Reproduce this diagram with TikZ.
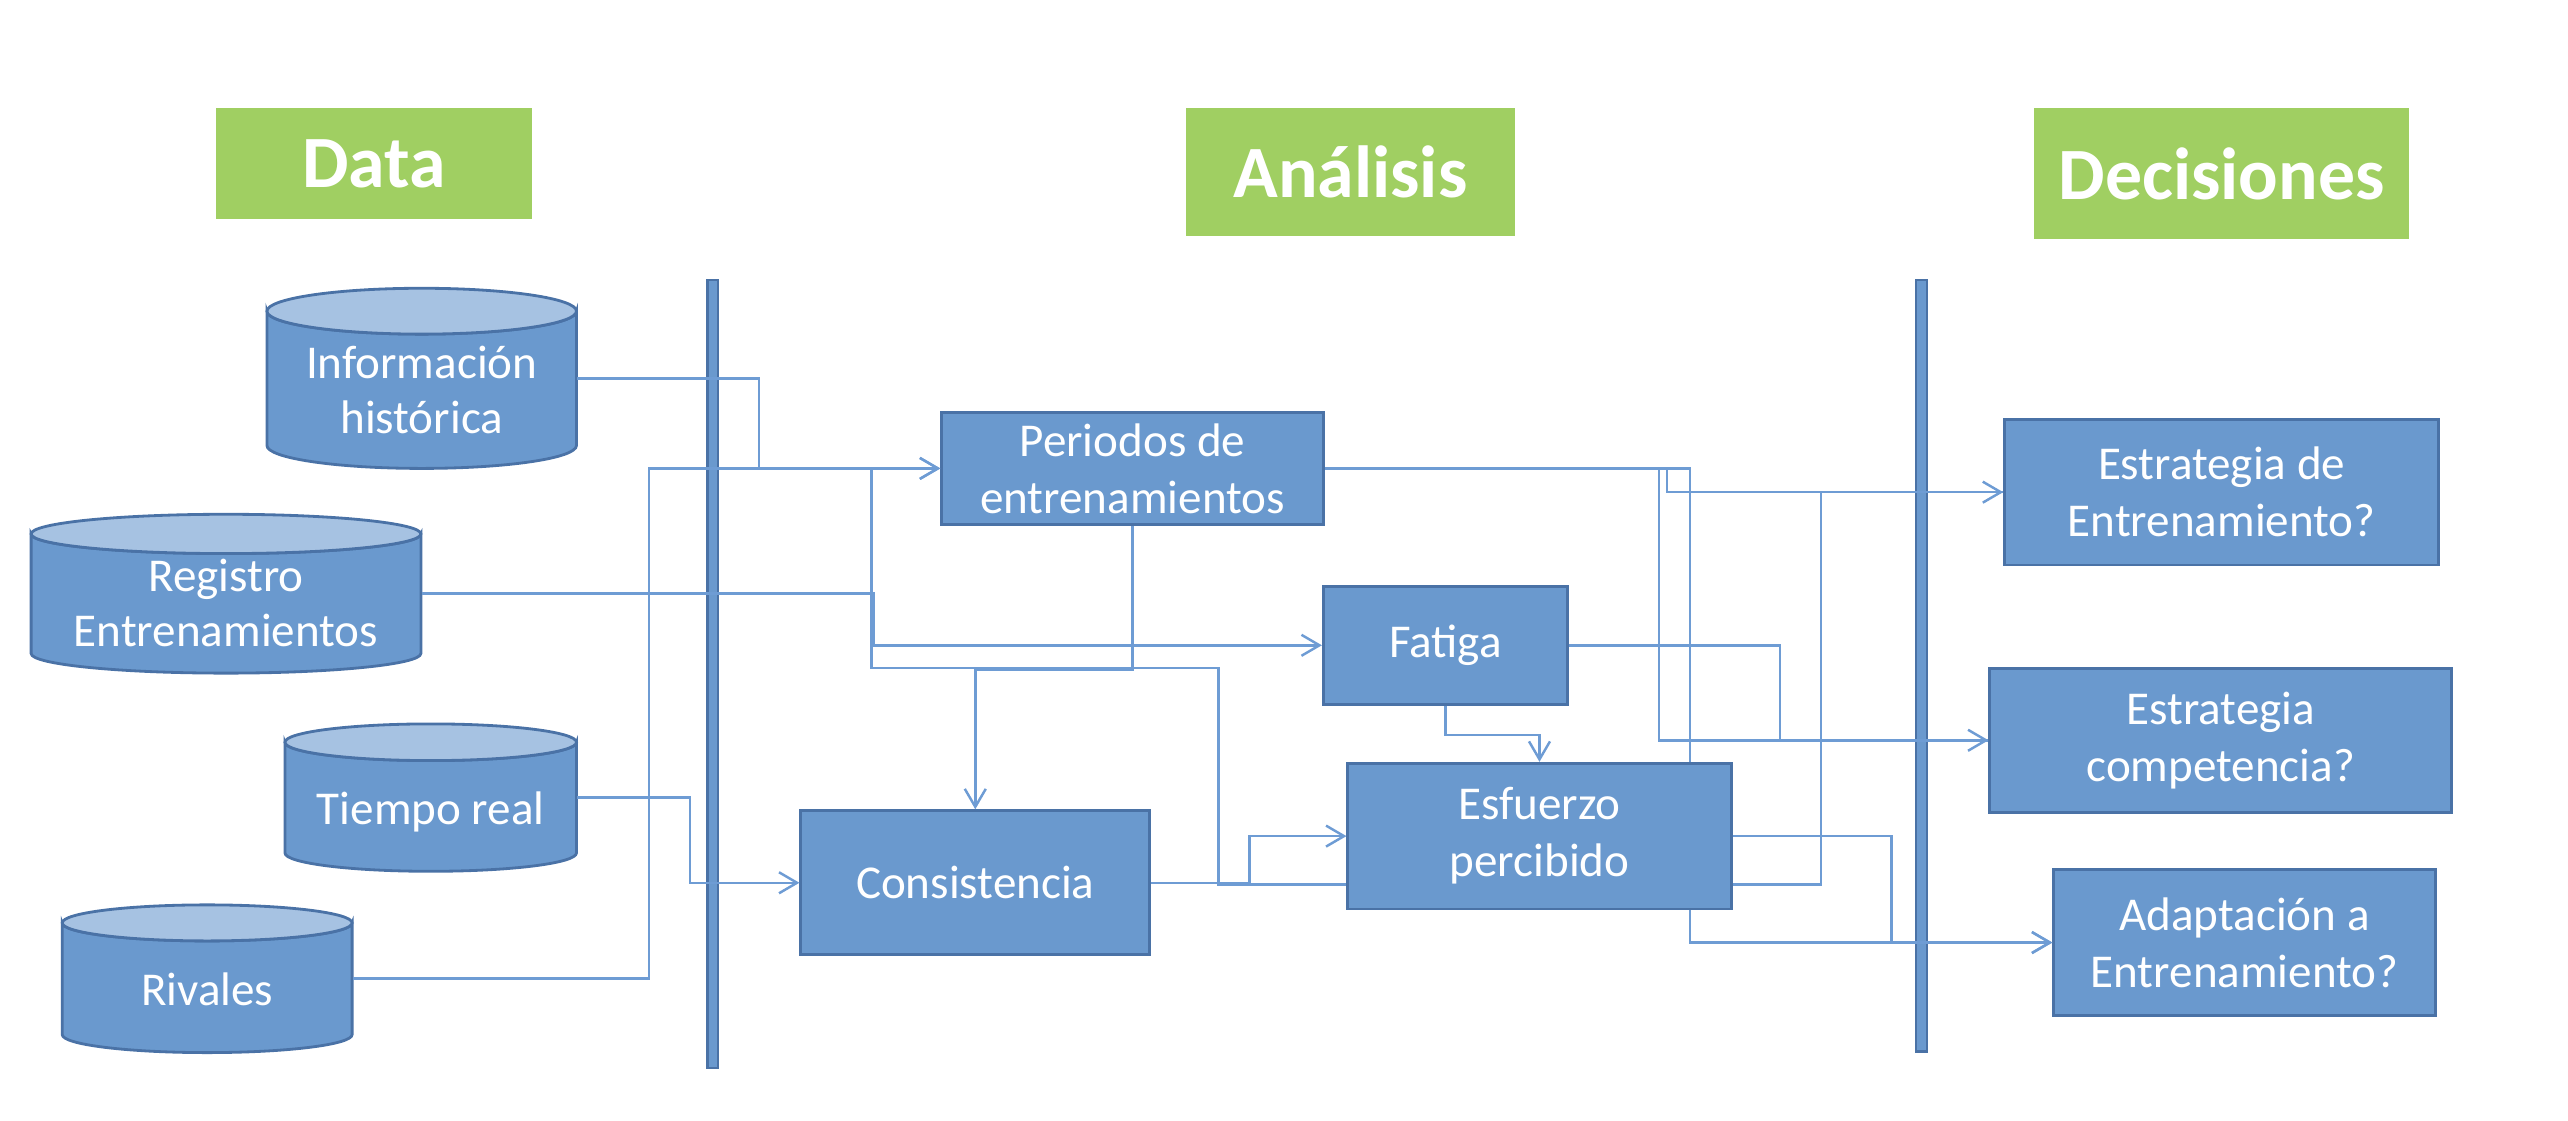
\documentclass[tikz,border=0pt]{standalone}
\usepackage{fontspec}
\setmainfont{Carlito}
\usepackage{tikz}
\usetikzlibrary{arrows.meta, calc}

\definecolor{boxblue}{RGB}{106,153,206}
\definecolor{edgeblue}{RGB}{74,114,166}
\definecolor{capblue}{RGB}{166,194,226}
\definecolor{lineblue}{RGB}{110,156,212}
\definecolor{headgreen}{RGB}{160,207,98}
\newcommand{\dpx}{0.1638mm}

\begin{document}
\begin{tikzpicture}[x = \dpx, y = -\dpx,
        font = \fontsize{13.4}{16.2}\selectfont,
        box/.style = {rectangle, draw = edgeblue, line width = 0.8pt, fill = boxblue,
            text = white, align = center, inner sep = 0pt},
        store/.style = {rectangle, text = white, align = center, inner sep = 0pt,
            font = \fontsize{13.4}{15.7}\selectfont},
        drum/.style = {draw = edgeblue, line width = 0.8pt, fill = boxblue},
        head/.style = {rectangle, fill = headgreen, text = white, inner sep = 0pt,
            font = \fontsize{21}{25}\selectfont\bfseries},
        link/.style = {draw = lineblue, line width = 0.7pt},
        >={Straight Barb[length = 1.8mm, width = 2.1mm]}]
        \useasboundingbox (0,0) rectangle (1568,684);

        % column titles
        \node[head, minimum width = 193*\dpx, minimum height = 68*\dpx] (hdata) at (228.5,100) {Data};
        \node[head, minimum width = 201*\dpx, minimum height = 78*\dpx] (hanal) at (824.5,105) {Análisis};
        \node[head, minimum width = 229*\dpx, minimum height = 80*\dpx] (hdec) at (1356.5,106) {Decisiones};

        % separators
        \draw[draw = edgeblue, fill = boxblue, line width = 0.6pt] (432,171) rectangle (438.5,652);
        \draw[draw = edgeblue, fill = boxblue, line width = 0.6pt] (1170,171) rectangle (1176.5,642);

        % data stores: left/right/top/bottom/cap
        \foreach \xa/\xb/\ya/\yb/\r in {163/352/176/286/14, 19/257/314/411/12,
                174/352/442/532/11.2, 38/215/552.5/642.7/11} {
            \draw[drum] (\xa,\ya+\r) -- (\xa,\yb-\r)
                arc[start angle = 180, end angle = 0, x radius = {(\xb-\xa)/2}, y radius = \r]
                -- (\xb,\ya+\r)
                arc[start angle = 0, end angle = 180, x radius = {(\xb-\xa)/2}, y radius = \r] -- cycle;
            \draw[drum, fill = capblue] ({(\xa+\xb)/2},\ya+\r) ellipse [x radius = {(\xb-\xa)/2}, y radius = \r];
        }
        \node[store, minimum width = 189*\dpx] (info) at (257.5,238) {Información\\histórica};
        \node[store, minimum width = 238*\dpx] (reg) at (138,368) {Registro\\Entrenamientos};
        \node[store, minimum width = 178*\dpx] (tiempo) at (263,496) {Tiempo real};
        \node[store, minimum width = 177*\dpx] (rivales) at (126.5,604) {Rivales};

        % analysis
        \node[box, minimum width = 233*\dpx, minimum height = 68*\dpx] (perio) at (691.5,286) {Periodos de\\entrenamientos};
        \node[box, minimum width = 149*\dpx, minimum height = 72*\dpx] (fatiga) at (882.5,394) {Fatiga};
        \node[box, minimum width = 213*\dpx, minimum height = 88*\dpx] (consis) at (595.5,539) {Consistencia};
        \node[box, minimum width = 234*\dpx, minimum height = 89*\dpx] (esfu) at (940,510.5) {Esfuerzo\\percibido};

        % decisions
        \node[box, minimum width = 265*\dpx, minimum height = 89*\dpx] (estent) at (1356.5,300.5) {Estrategia de\\Entrenamiento?};
        \node[box, minimum width = 282*\dpx, minimum height = 88*\dpx] (estcomp) at (1356,452) {Estrategia\\competencia?};
        \node[box, minimum width = 233*\dpx, minimum height = 89*\dpx] (adapt) at (1370.5,575.5) {Adaptación a\\Entrenamiento?};

        % data -> analysis
        \draw[link, ->] ($(info.east)+(0,-7)$) -- ++(111,0) |- (perio.west);
        \draw[link, ->] ($(rivales.east)+(0,-6.5)$) -- ++(181,0) |- (perio.west);
        \draw[link, ->] ($(reg.east)+(0,-5.5)$) -- ++(276,0) |- (fatiga.west);
        \draw[link, ->] ($(tiempo.east)+(0,-9)$) -- ++(69,0) |- (consis.west);
        \draw[link] ($(perio.west)+(-42,0)$) |- (744,408) |- ($(esfu.west)+(0,29.5)$);

        % inside analysis
        \draw[link, ->] (perio.south) -- ++(0,88) -| (consis.north);
        \draw[link, ->] (consis.east) -- ++(60,0) |- (esfu.west);
        \draw[link, ->] (fatiga.south) -- ++(0,18) -| (esfu.north);
        \draw[link] (perio.east) -| ($(esfu.north east)+(-26,0)$);

        % analysis -> decisions
        \draw[link, ->] ($(perio.east)+(204,0)$) |- (estcomp.west);
        \draw[link, ->] ($(perio.east)+(209,0)$) |- (estent.west);
        \draw[link] (fatiga.east) -- ++(129,0) |- (estcomp.west);
        \draw[link, ->] (esfu.east) -- ++(97,0) |- (adapt.west);
        \draw[link] ($(esfu.east)+(0,29.5)$) -- ++(54,0) |- (estent.west);
        \draw[link, ->] ($(esfu.south east)+(-26,0)$) |- (adapt.west);
    \end{tikzpicture}
\end{document}
